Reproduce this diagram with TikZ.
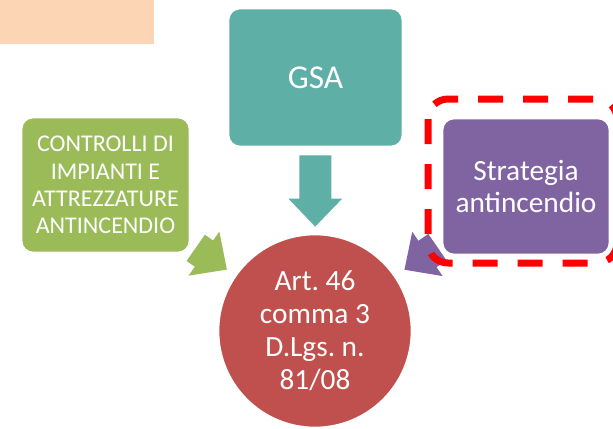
\documentclass[tikz,border=0pt]{standalone}
\usepackage{fontspec}
\setmainfont{Carlito}
\frenchspacing
\usetikzlibrary{arrows.meta}
\definecolor{peach}{HTML}{FCD5B5}
\definecolor{gsateal}{HTML}{5EAFA6}
\definecolor{ctrlgreen}{HTML}{9BBB59}
\definecolor{artred}{HTML}{C0504D}
\definecolor{stratpurple}{HTML}{8064A2}
\definecolor{hlred}{HTML}{FF0000}
\begin{document}
\begin{tikzpicture}[x=0.75pt,y=-0.75pt,
    main node/.style={rectangle,rounded corners=9pt,draw=white,line width=2pt,text=white,align=center,inner sep=0pt},
    round node/.style={circle,draw=white,line width=2pt,text=white,align=center,inner sep=0pt},
    flow/.style={line width=24pt,-{Triangle[width=39pt,length=21pt]}},
    hl frame/.style={draw=hlred,line width=5.25pt,dash pattern=on 18.75pt off 15pt,rounded corners=15pt}]
        \useasboundingbox (0,0) rectangle (613,428);
        \clip (0,0) rectangle (613,428);
        \fill[peach] (0,0) rectangle (154,44);

        \node[main node,fill=gsateal,minimum width=131.25pt,minimum height=104.25pt,font=\fontsize{25}{30}\selectfont] at (315.5, 77.5) (gsa) {GSA};
        \node[main node,fill=ctrlgreen,minimum width=126.75pt,minimum height=102pt,font=\fontsize{18}{20.4}\selectfont] at (105.5, 185) (ctrl) {CONTROLLI DI\\IMPIANTI E\\ATTREZZATURE\\ANTINCENDIO};
        \node[main node,fill=stratpurple,minimum width=126pt,minimum height=102.75pt,font=\fontsize{22}{24}\selectfont] at (526, 186.5) (strat) {Strategia\\antincendio};
        \node[round node,fill=artred,minimum size=145.5pt,font=\fontsize{22}{24.75}\selectfont] at (315, 331) (art) {Art. 46\\comma 3\\D.Lgs. n.\\81/08};

        \path
            (gsa) edge[flow,gsateal,shorten <=5.25pt,shorten >=4.5pt] (art)
            (ctrl) edge[flow,ctrlgreen,shorten <=4pt,shorten >=6.75pt] (art)
            (strat) edge[flow,stratpurple,shorten <=3pt,shorten >=7.5pt] (art)
            ;
        \draw[hl frame] (428, 99) rectangle (617, 263);
\end{tikzpicture}
\end{document}
